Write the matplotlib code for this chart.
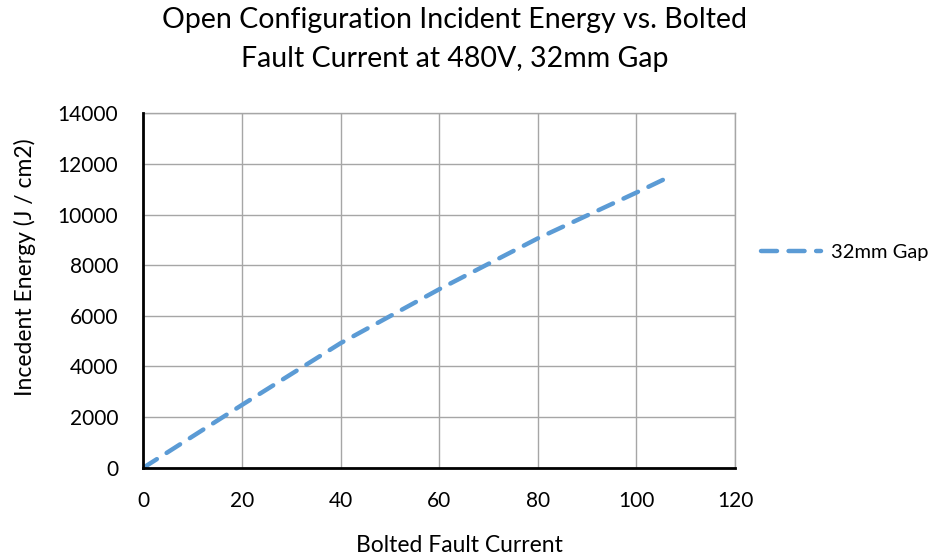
import matplotlib
matplotlib.use("Agg")
import matplotlib.pyplot as plt
from matplotlib.lines import Line2D

plt.rcParams['font.family'] = ['Lato', 'DejaVu Sans']

# incident energy vs bolted fault current (480V, 32mm gap)
fault_current = [0, 20, 40, 60, 80, 100, 106]
incident_energy = [0, 2480, 4920, 7050, 9060, 10870, 11430]
series_name = '32mm Gap'

x_ticks = [0, 20, 40, 60, 80, 100, 120]
y_ticks = [0, 2000, 4000, 6000, 8000, 10000, 12000, 14000]

fig = plt.figure(figsize=(9.4, 5.59), dpi=100)
ax = fig.add_axes([0.1525, 0.1633, 0.6295, 0.634])

ax.plot(fault_current, incident_energy, color='#5B9BD5', lw=3.2,
        linestyle=(0, (3.6, 2.6)), dash_capstyle='round', zorder=3)

ax.set_xlim(0, 120)
ax.set_ylim(0, 14000)
ax.set_xticks(x_ticks)
ax.set_yticks(y_ticks)
ax.grid(True, color='#A6A6A6', lw=1.0)
ax.set_axisbelow(True)

for s in ['top', 'right']:
    ax.spines[s].set_color('#A6A6A6')
    ax.spines[s].set_linewidth(1.0)
for s in ['left', 'bottom']:
    ax.spines[s].set_color('black')
    ax.spines[s].set_linewidth(2.0)
    ax.spines[s].set_zorder(4)

ax.tick_params(axis='both', length=0, labelsize=15)
ax.tick_params(axis='y', pad=18)
ax.tick_params(axis='x', pad=17)

ax.set_xlabel('Bolted Fault Current', fontsize=16.5)
ax.xaxis.set_label_coords(0.535, -0.19)
ax.set_ylabel('Incedent Energy (J / cm2)', fontsize=16.5)
ax.yaxis.set_label_coords(-0.182, 0.566)

fig.suptitle('Open Configuration Incident Energy vs. Bolted\nFault Current at 480V, 32mm Gap',
             x=0.484, y=0.988, fontsize=20.5, linespacing=1.65)

handle = Line2D([], [], color='#5B9BD5', lw=3.2, linestyle=(0, (3.6, 2.6)),
                dash_capstyle='round')
fig.legend([handle], [series_name], loc='center left', bbox_to_anchor=(0.79, 0.549),
           frameon=False, fontsize=14.5, handlelength=3.0, handletextpad=0.5)

fig.savefig('out.png', dpi=100)
